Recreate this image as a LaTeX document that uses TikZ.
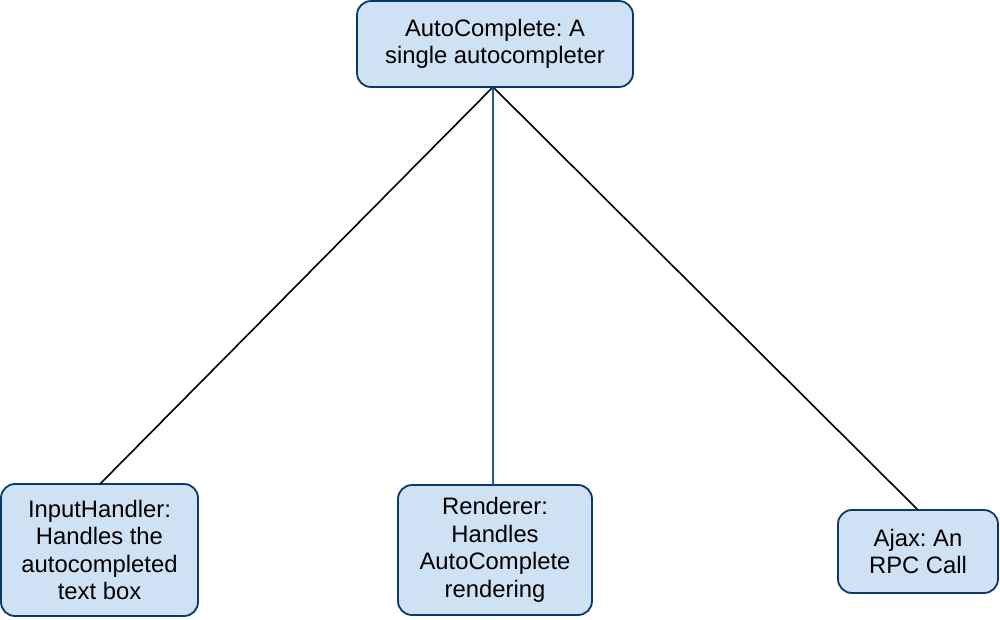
\documentclass[tikz,border=0pt]{standalone}
\usepackage{fontspec}
\setmainfont{Liberation Sans}
\frenchspacing
\definecolor{boxfill}{HTML}{CFE2F3}
\definecolor{boxdraw}{HTML}{0B3A6A}
\definecolor{midline}{HTML}{1F5A96}
\begin{document}
\begin{tikzpicture}[x=1pt,y=-1pt,
  box/.style={draw=boxdraw, fill=boxfill, line width=1.8pt, rounded corners=14pt,
    align=center, inner sep=0pt,
    font=\fontsize{23.8}{27.5}\selectfont},
  conn/.style={line width=1.6pt, black}]
\useasboundingbox (0,0) rectangle (1000,619);
\node[box, minimum width=276pt, minimum height=86pt] (top) at (495,44) {AutoComplete: A\\single autocompleter};
\node[box, minimum width=197pt, minimum height=132pt] (inp) at (99.5,550) {InputHandler:\\Handles the\\autocompleted\\text box};
\node[box, minimum width=194pt, minimum height=130pt] (ren) at (495,550) {Renderer:\\Handles\\AutoComplete\\rendering};
\node[box, minimum width=160pt, minimum height=83pt] (ajax) at (918,551.5) {Ajax: An\\RPC Call};
\coordinate (hub) at (493,87);
\draw[conn] (hub) -- (100,484);
\draw[conn] (hub) -- (918,510);
\draw[line width=1.6pt, midline] (hub) -- (493,485);
\end{tikzpicture}
\end{document}
